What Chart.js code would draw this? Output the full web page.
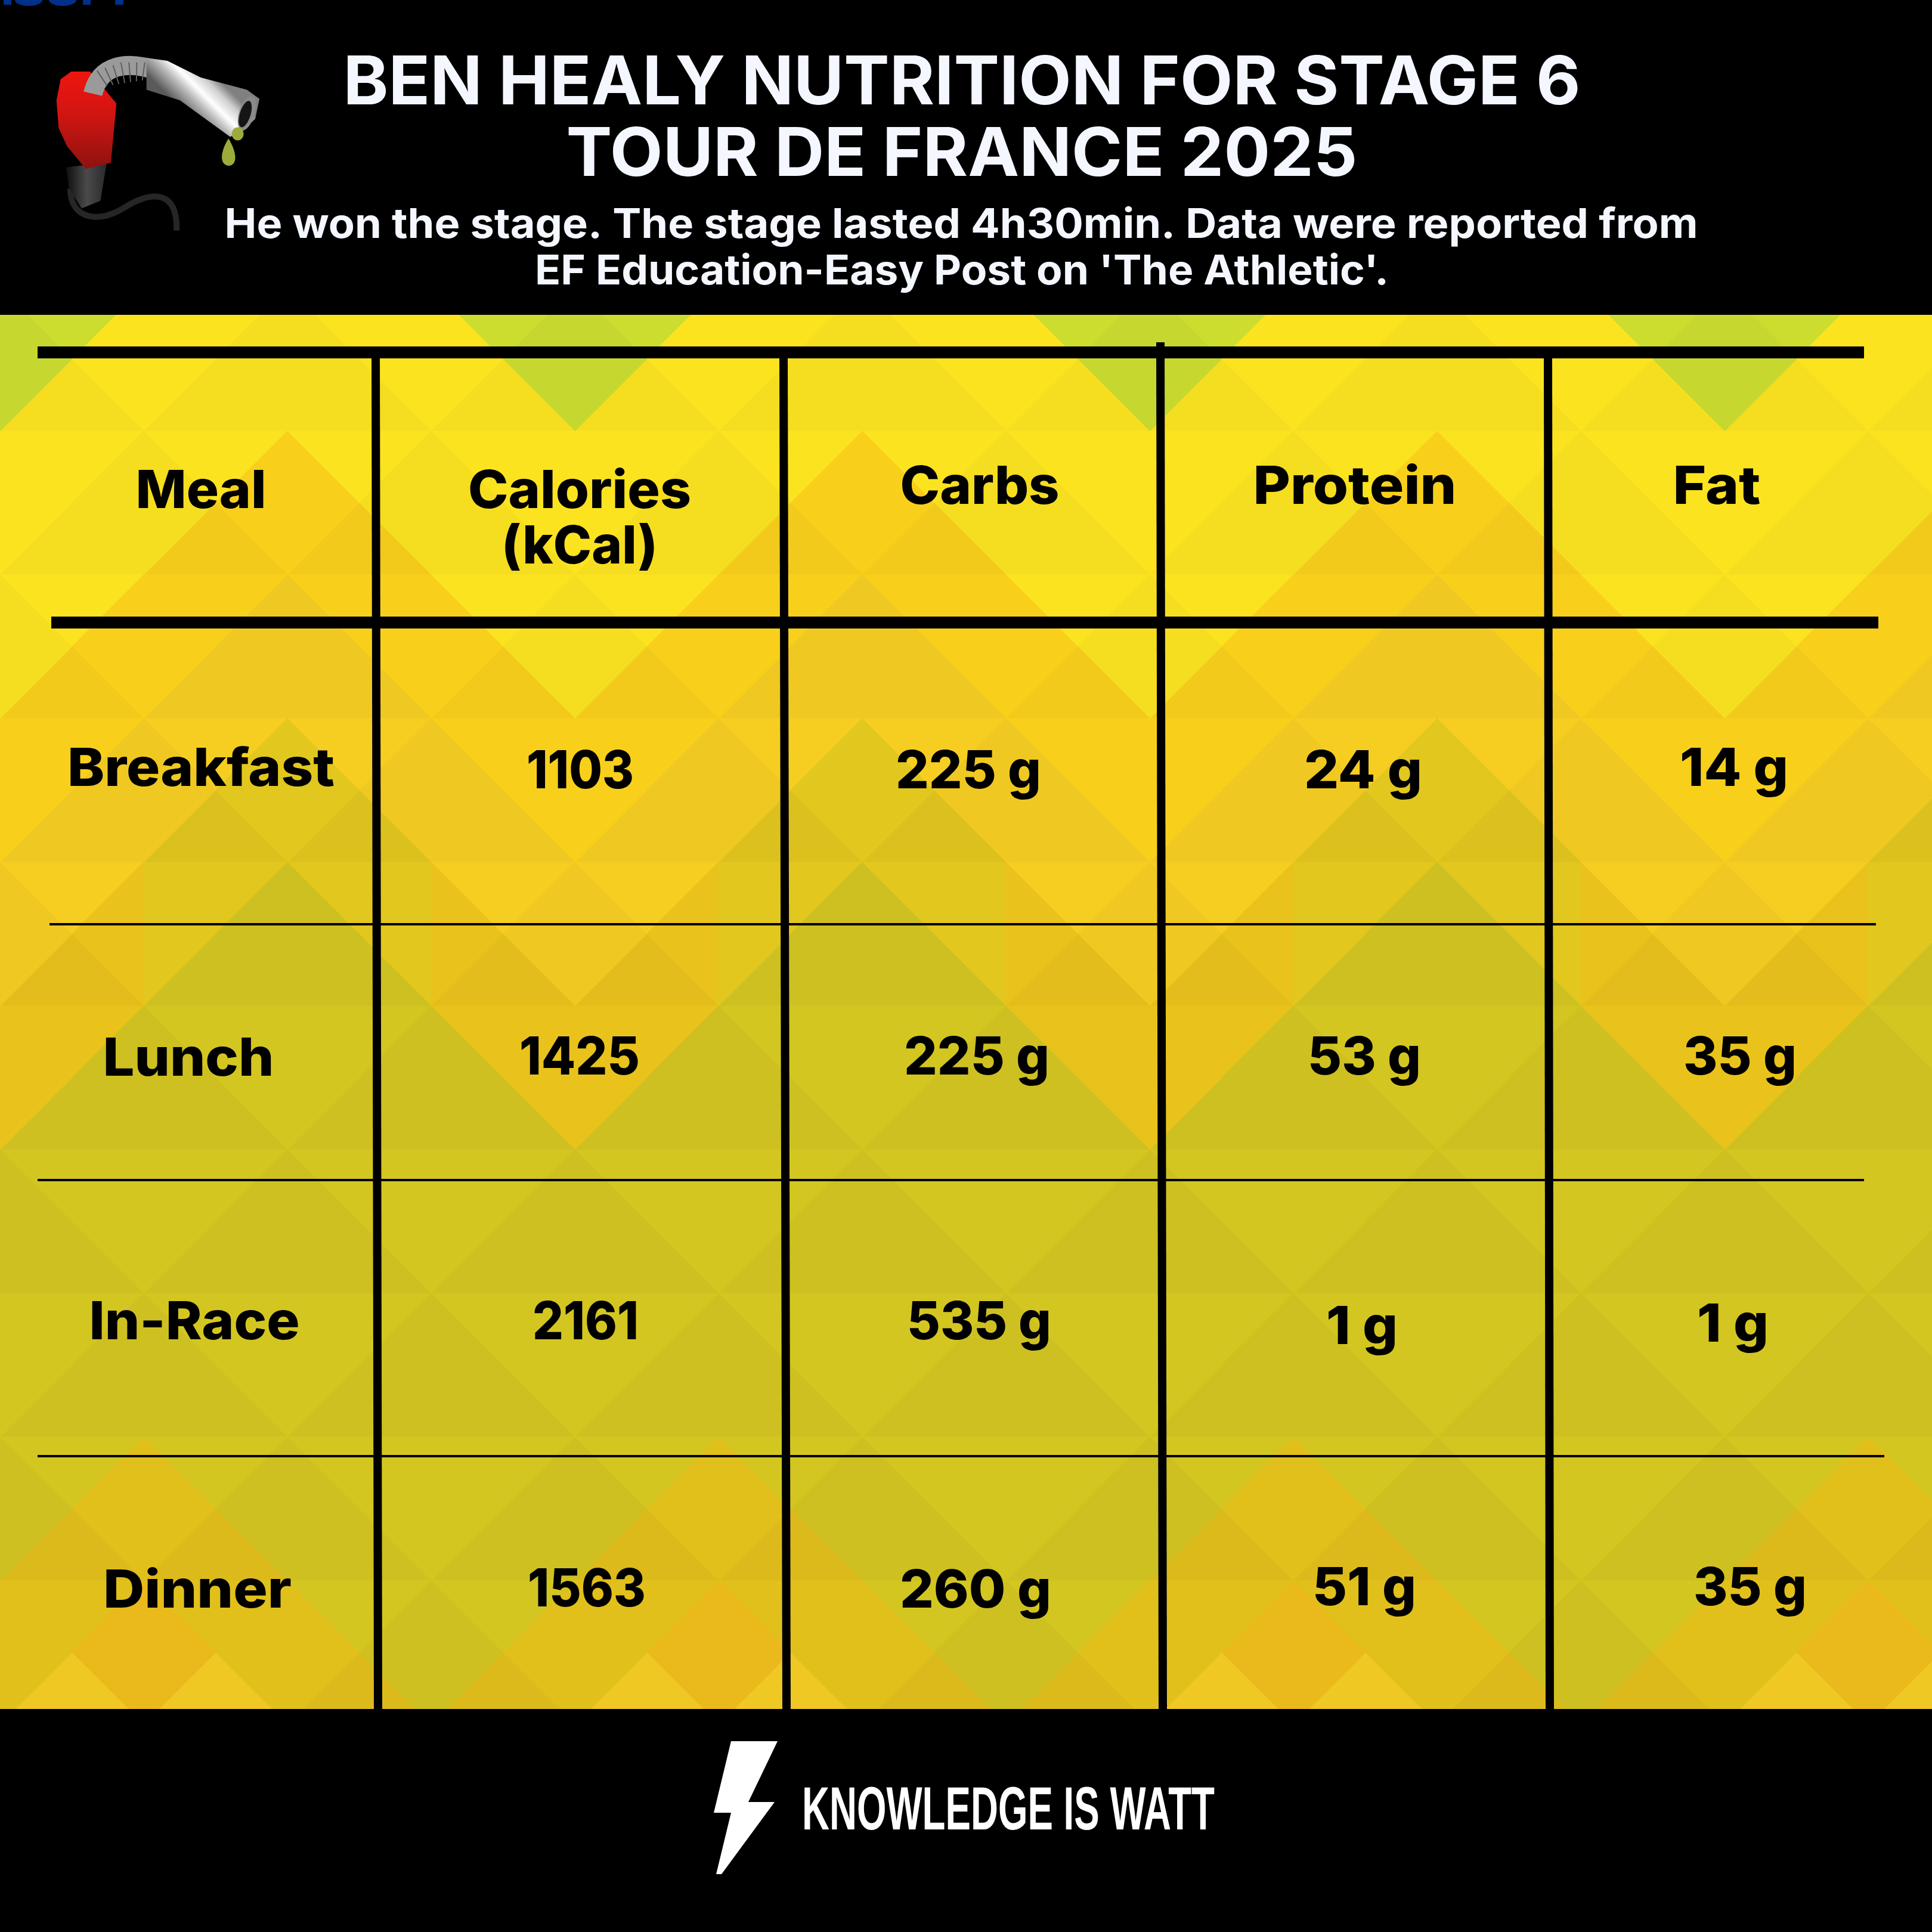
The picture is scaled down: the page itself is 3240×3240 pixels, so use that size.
<!DOCTYPE html>
<html>
<head>
<meta charset="utf-8">
<style>
html,body{margin:0;padding:0;background:#000;}
canvas{display:block;}
</style>
<script src="https://cdn.jsdelivr.net/npm/chart.js@4"></script>
</head>
<body>
<canvas id="myChart" width="3240" height="3240" style="width:3240px;height:3240px"></canvas>
<script>
// table content
const columns = ['Meal', ['Calories', '(kCal)'], 'Carbs', 'Protein', 'Fat'];
const meals = ['Breakfast', 'Lunch', 'In-Race', 'Dinner'];
const calories = [1103, 1425, 2161, 1563];
const carbs = [225, 225, 535, 260];
const protein = [24, 53, 1, 51];
const fat = [14, 35, 1, 35];

const titleLines = ['BEN HEALY NUTRITION FOR STAGE 6', 'TOUR DE FRANCE 2025'];
const subtitleLines = ["He won the stage. The stage lasted 4h30min. Data were reported from", "EF Education-Easy Post on 'The Athletic'."];
const footerText = 'KNOWLEDGE IS WATT';

// layout of the table, in canvas units
const colTop = [630, 1314, 1946, 2596];
const colBottom = [634, 1319, 1950, 2599];
const colCenters = [315, 972, 1630, 2272, 2918];
const rowCenters = [818, 1297, 1764, 2210, 2653];
const rules = [
  {y: 591, from: 63, to: 3126, w: 20},
  {y: 1044, from: 86, to: 3150, w: 20},
  {y: 1550, from: 83, to: 3146, w: 4},
  {y: 1979, from: 63, to: 3126, w: 4},
  {y: 2442, from: 63, to: 3160, w: 4}
];
// hand placement of each cell, the original is not quite aligned
const nudgeX = [
  [22, 0, 13, 0, -39],
  [22, 1, -6, 14, -10],
  [1, 0, 8, 16, 0],
  [11, 10, 12, 12, -12],
  [16, 12, 6, 16, 17]
];
const nudgeY = [
  [34, 34, 27, 27, 27],
  [21, 25, 25, 25, 21],
  [40, 38, 38, 38, 38],
  [36, 36, 36, 44, 40],
  [43, 41, 43, 39, 39]
];
const textWidths = [
  [219, 374, 267, 341, 147],
  [448, 180, 244, 198, 182],
  [287, 202, 244, 190, 190],
  [353, 178, 242, 120, 120],
  [316, 198, 254, 174, 190]
];

const grams = v => v + ' g';
const colValues = [meals, calories, carbs.map(grams), protein.map(grams), fat.map(grams)];

// text squeezed or stretched to a given width
function fitText(ctx, text, cx, base, font, width, color) {
  ctx.save();
  ctx.font = font;
  ctx.fillStyle = color;
  ctx.textAlign = 'center';
  ctx.textBaseline = 'alphabetic';
  const sx = width / ctx.measureText(text).width;
  ctx.translate(cx, base);
  ctx.scale(sx, 1);
  ctx.fillText(text, 0, 0);
  ctx.restore();
}

function hex(c) {
  return [parseInt(c.slice(1, 3), 16), parseInt(c.slice(3, 5), 16), parseInt(c.slice(5, 7), 16)];
}

// colour of one background triangle from where its centre falls in the big diamonds
function patchColor(x, y) {
  const near = (v, p, o) => { const m = ((v - o) % p + p) % p; return Math.min(m, p - m); };
  const dA = near(x, 964, 0);
  const dB = near(x, 964, 241);
  const s = y + dA;
  if (y - Math.abs(dB - 120) > 2773) return hex('#f2cb24');
  if (y - dB > 2651) return hex('#edbc1c');
  if (y - dB > 2411) return hex('#dfbd1b');
  if (s < 723) return hex('#c9da2f');
  if (s < 1205) return hex('#f8e020');
  if (s < 1447) return hex('#f5cd1b');
  if (s < 1687) return hex('#f3cb22');
  if (s < 1927) return dA > 241 ? hex('#dfc41e') : hex('#e6c01b');
  return hex('#d1c321');
}

const backdrop = {
  id: 'backdrop',
  beforeDraw(chart) {
    const ctx = chart.ctx;
    const tile = 241;
    ctx.save();
    ctx.fillStyle = '#000';
    ctx.fillRect(0, 0, 3240, 3240);
    ctx.beginPath();
    ctx.rect(0, 528, 3240, 2338);
    ctx.clip();
    // faint facets, mirrored every two tiles like the original
    const sideW = [1, -1, 1, -1];
    for (let i = 0; i < 14; i++) {
      for (let j = 2; j < 12; j++) {
        const x0 = i * tile, y0 = j * tile, mx = x0 + tile / 2, my = y0 + tile / 2;
        const flip = j % 2 ? 1 : -1;
        const shade = [3, -3 * sideW[i % 4] * flip, -3, 3 * sideW[i % 4] * flip];
        const tris = [
          [[x0, y0], [x0 + tile, y0]],
          [[x0 + tile, y0], [x0 + tile, y0 + tile]],
          [[x0 + tile, y0 + tile], [x0, y0 + tile]],
          [[x0, y0 + tile], [x0, y0]]
        ];
        tris.forEach((t, k) => {
          const cx = (t[0][0] + t[1][0] + mx) / 3, cy = (t[0][1] + t[1][1] + my) / 3;
          const c = patchColor(cx, cy);
          const d = shade[k];
          const col = `rgb(${c[0] + d},${c[1] + d},${c[2]})`;
          ctx.fillStyle = col;
          ctx.strokeStyle = col;
          ctx.lineWidth = 1;
          ctx.beginPath();
          ctx.moveTo(t[0][0], t[0][1]);
          ctx.lineTo(t[1][0], t[1][1]);
          ctx.lineTo(mx, my);
          ctx.closePath();
          ctx.fill();
          ctx.stroke();
        });
      }
    }
    ctx.restore();
  }
};

function drawPump(ctx) {
  const px = v => v / 1.425, py = v => v / 1.96;
  const shape = (pts, fill) => {
    ctx.fillStyle = fill;
    ctx.beginPath();
    pts.forEach((p, i) => i ? ctx.lineTo(px(p[0]), py(p[1])) : ctx.moveTo(px(p[0]), py(p[1])));
    ctx.closePath();
    ctx.fill();
  };
  ctx.save();
  // hose
  ctx.strokeStyle = '#262626';
  ctx.lineWidth = 10;
  ctx.beginPath();
  ctx.moveTo(px(168), py(620));
  ctx.bezierCurveTo(px(168), py(725), px(240), py(735), px(300), py(680));
  ctx.bezierCurveTo(px(360), py(630), px(425), py(620), px(422), py(758));
  ctx.stroke();
  // handle
  const dark = ctx.createLinearGradient(px(160), 0, px(255), 0);
  dark.addColorStop(0, '#111');
  dark.addColorStop(0.5, '#4a4a4a');
  dark.addColorStop(1, '#2a2a2a');
  shape([[158, 550], [255, 535], [240, 660], [195, 685], [165, 620]], dark);
  const red = ctx.createLinearGradient(0, py(235), 0, py(555));
  red.addColorStop(0, '#f0150f');
  red.addColorStop(0.45, '#d01512');
  red.addColorStop(1, '#8d1210');
  shape([[135, 330], [145, 260], [170, 235], [215, 235], [278, 340], [265, 535], [205, 555], [160, 480], [140, 420]], red);
  // flexible neck and spout
  const steel = ctx.createLinearGradient(px(420), py(340), px(500), py(230));
  steel.addColorStop(0, '#5a5a5a');
  steel.addColorStop(0.35, '#bdbdbd');
  steel.addColorStop(0.55, '#ffffff');
  steel.addColorStop(0.8, '#cfcfcf');
  steel.addColorStop(1, '#808080');
  ctx.strokeStyle = '#9a9a9a';
  ctx.lineWidth = 32;
  ctx.beginPath();
  ctx.moveTo(px(222), py(308));
  ctx.bezierCurveTo(px(238), py(215), px(300), py(195), px(380), py(235));
  ctx.stroke();
  ctx.strokeStyle = '#5f5f5f';
  ctx.lineWidth = 2;
  for (let k = 0; k < 7; k++) {
    ctx.beginPath();
    ctx.moveTo(px(232 + k * 19), py(232 - k * 9 + (k > 3 ? (k - 3) * 9 : 0)));
    ctx.lineTo(px(256 + k * 14), py(282 - k * 3));
    ctx.stroke();
  }
  shape([[350, 190], [400, 200], [480, 255], [590, 295], [620, 325], [610, 390], [580, 430], [550, 450], [430, 330], [350, 295]], steel);
  // mouth of the spout
  ctx.fillStyle = '#8a8a8a';
  ctx.beginPath();
  ctx.ellipse(px(590), py(372), 13, 30, 0.3, 0, Math.PI * 2);
  ctx.fill();
  ctx.fillStyle = '#151515';
  ctx.beginPath();
  ctx.ellipse(px(586), py(375), 9, 23, 0.3, 0, Math.PI * 2);
  ctx.fill();
  // drop
  ctx.fillStyle = '#9dab3a';
  ctx.beginPath();
  ctx.ellipse(px(568), py(440), 10, 11, 0, 0, Math.PI * 2);
  ctx.fill();
  ctx.beginPath();
  ctx.moveTo(px(546), py(455));
  ctx.bezierCurveTo(px(530), py(490), px(520), py(540), px(547), py(545));
  ctx.bezierCurveTo(px(572), py(540), px(562), py(490), px(546), py(455));
  ctx.fill();
  ctx.restore();
}

function drawBolt(ctx) {
  ctx.fillStyle = '#fff';
  ctx.beginPath();
  [[1226, 2920], [1304, 2920], [1255, 3022], [1299, 3022], [1210, 3143], [1201, 3143], [1226, 3040], [1197, 3040]]
    .forEach((p, i) => i ? ctx.lineTo(p[0], p[1]) : ctx.moveTo(p[0], p[1]));
  ctx.closePath();
  ctx.fill();
}

const texts = {
  id: 'texts',
  afterDatasetsDraw(chart) {
    const ctx = chart.ctx;
    // cut-off remains of another graphic on the top edge
    ctx.fillStyle = '#00308a';
    [[6, 13], [139, 13], [193, 14]].forEach(b => ctx.fillRect(b[0], 0, b[1], 8));
    [48, 105].forEach(c => { ctx.beginPath(); ctx.ellipse(c, 0, 23, 10, 0, 0, Math.PI * 2); ctx.fill(); });

    drawPump(ctx);
    drawBolt(ctx);

    const head = '#f4f7ff';
    fitText(ctx, titleLines[0], 1613, 175, '700 113px Inter', 2075, head);
    fitText(ctx, titleLines[1], 1613, 295, '700 113px Inter', 1327, head);
    fitText(ctx, subtitleLines[0], 1612, 399, '700 69px Inter', 2471, head);
    fitText(ctx, subtitleLines[1], 1613, 477, '700 69px Inter', 1432, head);
    fitText(ctx, footerText, 1691, 3068, '700 102px "Liberation Sans"', 692, '#fff');

    // cells sit on the invisible points of the column datasets
    chart.data.datasets.forEach((ds, di) => {
      if (ds.cells === undefined) return;
      const pts = chart.getDatasetMeta(di).data;
      ds.cells.forEach((label, r) => {
        const x = pts[r].x + nudgeX[r][ds.col], y = pts[r].y + nudgeY[r][ds.col];
        const font = '800 88px Inter';
        if (Array.isArray(label)) {
          fitText(ctx, label[0], x, y, font, textWidths[r][ds.col], '#000');
          fitText(ctx, label[1], x, y + 93, font, 262, '#000');
        } else {
          fitText(ctx, String(label), x, y, font, textWidths[r][ds.col], '#000');
        }
      });
    });
  }
};

const ruleSets = rules.map(r => ({
  data: [{x: r.from, y: r.y}, {x: r.to, y: r.y}],
  showLine: true, borderColor: '#000', borderWidth: r.w, pointRadius: 0
}));
const colSets = colTop.map((x, i) => ({
  data: [{x: x, y: i === 2 ? 574 : 591}, {x: colBottom[i], y: 2866}],
  showLine: true, borderColor: '#000', borderWidth: 14, pointRadius: 0
}));
const cellSets = colValues.map((vals, c) => ({
  col: c,
  cells: [columns[c]].concat(vals),
  data: rowCenters.map(y => ({x: colCenters[c], y: y})),
  pointRadius: 0, showLine: false
}));

new Chart(document.getElementById('myChart'), {
  type: 'scatter',
  data: {datasets: ruleSets.concat(colSets, cellSets)},
  options: {
    responsive: false,
    animation: false,
    devicePixelRatio: 1,
    layout: {padding: 0},
    plugins: {legend: {display: false}, tooltip: {enabled: false}},
    scales: {
      x: {type: 'linear', display: false, min: 0, max: 3240},
      y: {type: 'linear', display: false, min: 0, max: 3240, reverse: true}
    }
  },
  plugins: [backdrop, texts]
});
</script>
</body>
</html>
